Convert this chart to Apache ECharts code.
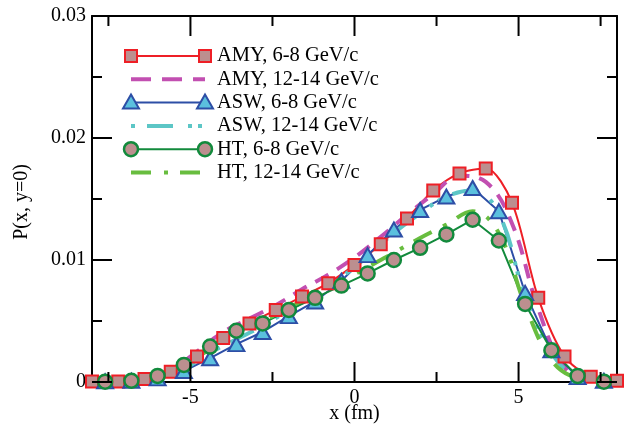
<!DOCTYPE html>
<html>
<head>
<meta charset="utf-8">
<script src="https://cdn.jsdelivr.net/npm/echarts@6/dist/echarts.min.js"></script>
<style>
  html, body { margin: 0; padding: 0; background: #fff; }
  #chart { width: 635px; height: 432px; }
</style>
</head>
<body>
<div id="chart"></div>
<script>
// x positions (fm)
const amyX = [-8, -7.2, -6.4, -5.6, -4.8, -4.0, -3.2, -2.4, -1.6, -0.8, 0, 0.8, 1.6, 2.4, 3.2, 4.0, 4.8, 5.6, 6.4, 7.2, 8.0]
const halfX = [-7.6, -6.8, -6.0, -5.2, -4.4, -3.6, -2.8, -2.0, -1.2, -0.4, 0.4, 1.2, 2.0, 2.8, 3.6, 4.4, 5.2, 6.0, 6.8, 7.6]

// P(x, y=0)
const amy68 = [0.00005, 0.00005, 0.00025, 0.00084, 0.0021, 0.0036, 0.0048, 0.0059, 0.0070, 0.0081, 0.0096, 0.0113, 0.0134, 0.0157, 0.0171, 0.0175, 0.0147, 0.0069, 0.0021, 0.00043, 0.0001]
const amy1214 = [0.00005, 0.0001, 0.0003, 0.0010, 0.0025, 0.0041, 0.0052, 0.0063, 0.0076, 0.0088, 0.0102, 0.0119, 0.0137, 0.0154, 0.0169, 0.0164, 0.0130, 0.0060, 0.0012, 0.0002, 0.00005]
const asw68 = [0.00005, 0.0001, 0.0003, 0.0009, 0.00195, 0.0031, 0.0041, 0.0054, 0.0066, 0.0083, 0.0104, 0.0125, 0.0141, 0.0152, 0.0159, 0.0140, 0.0073, 0.0026, 0.0004, 0.0001]
const asw1214 = [0.00005, 0.0001, 0.0004, 0.0011, 0.0024, 0.0035, 0.0046, 0.0059, 0.0072, 0.0086, 0.0103, 0.0122, 0.0138, 0.0152, 0.0157, 0.0138, 0.0070, 0.0024, 0.0004, 0.0001]
const ht68 = [0.00003, 0.0001, 0.0005, 0.0014, 0.0029, 0.0042, 0.0048, 0.0059, 0.0069, 0.0079, 0.0089, 0.0100, 0.0110, 0.0121, 0.0133, 0.0116, 0.0064, 0.0026, 0.0005, 0.00003]
const ht1214 = [0.00005, 0.0001, 0.0005, 0.0014, 0.0027, 0.0041, 0.0050, 0.0061, 0.0072, 0.0083, 0.0094, 0.0106, 0.0118, 0.0129, 0.0140, 0.0122, 0.0063, 0.0018, 0.0003, 0.00005]

const names = ['AMY, 6-8 GeV/c', 'AMY, 12-14 GeV/c', 'ASW, 6-8 GeV/c', 'ASW, 12-14 GeV/c', 'HT, 6-8 GeV/c', 'HT, 12-14 GeV/c']
const xMajor = [-5, 0, 5]
const xMinor = [-7.5, -2.5, 2.5, 7.5]
const yMajor = [0, 0.01, 0.02, 0.03]
const yMinor = [0.005, 0.015, 0.025]

const FONT = 'Liberation Serif'
const RED = '#ee1f26', MAG = '#c24fb1', BLUE = '#2d4ea6', CYAN = '#5cc6c6', GREEN = '#128a3c', LGREEN = '#68bd3f'
const FILL = '#bc8f8f', TRIFILL = '#5bc0de'

const W = 635, H = 432
const G = { left: 92, right: 18, top: 16, bottom: 50 }
const X_MIN = -8, X_MAX = 8, Y_MIN = 0, Y_MAX = 0.03

const pairs = (xs, ys) => xs.map((x, i) => [x, ys[i]])

const chart = echarts.init(document.getElementById('chart'))

const xBase = { type: 'value', min: X_MIN, max: X_MAX, splitLine: { show: false } }
const yBase = { type: 'value', min: Y_MIN, max: Y_MAX, splitLine: { show: false } }
const axLine = () => ({ onZero: false, lineStyle: { color: '#000', width: 2 } })

chart.setOption({
  animation: false,
  grid: { left: G.left, right: G.right, top: G.top, bottom: G.bottom },
  xAxis: [
    Object.assign({}, xBase, {
      position: 'bottom', axisLine: axLine(), axisTick: { show: false },
      axisLabel: { customValues: xMajor, margin: 6, fontFamily: FONT, fontSize: 20, color: '#000' }
    }),
    Object.assign({}, xBase, { position: 'top', axisLine: axLine(), axisTick: { show: false }, axisLabel: { show: false } })
  ],
  yAxis: [
    Object.assign({}, yBase, {
      position: 'left', axisLine: axLine(), axisTick: { show: false },
      axisLabel: { customValues: yMajor, margin: 6, fontFamily: FONT, fontSize: 20, color: '#000' }
    }),
    Object.assign({}, yBase, { position: 'right', axisLine: axLine(), axisTick: { show: false }, axisLabel: { show: false } })
  ],
  series: [
    {
      name: names[0], type: 'line', data: pairs(amyX, amy68), smooth: 0.3, clip: false,
      symbol: 'rect', symbolSize: 12,
      lineStyle: { color: RED, width: 2 },
      itemStyle: { color: FILL, borderColor: RED, borderWidth: 2 }
    },
    {
      name: names[1], type: 'line', data: pairs(amyX, amy1214), smooth: 0.4, showSymbol: false,
      lineStyle: { color: MAG, width: 4, type: [15, 10] }
    },
    {
      name: names[2], type: 'line', data: pairs(halfX, asw68), clip: false,
      symbol: 'triangle', symbolSize: [16, 14],
      lineStyle: { color: BLUE, width: 2 },
      itemStyle: { color: TRIFILL, borderColor: BLUE, borderWidth: 2 }
    },
    {
      name: names[3], type: 'line', data: pairs(halfX, asw1214), smooth: 0.4, showSymbol: false,
      lineStyle: { color: CYAN, width: 4, type: [26, 15, 4, 6, 4, 12] }
    },
    {
      name: names[4], type: 'line', data: pairs(halfX, ht68), clip: false,
      symbol: 'circle', symbolSize: 14,
      lineStyle: { color: GREEN, width: 2 },
      itemStyle: { color: FILL, borderColor: GREEN, borderWidth: 2.5 }
    },
    {
      name: names[5], type: 'line', data: pairs(halfX, ht1214), smooth: 0.4, showSymbol: false,
      lineStyle: { color: LGREEN, width: 4, type: [20, 13, 4, 12] }
    }
  ]
})

// pixel position of an axis value: ask the chart, fall back to the grid box
const xPix = v => {
  const p = chart.convertToPixel({ xAxisIndex: 0 }, v)
  return Number.isFinite(p) ? p : G.left + (v - X_MIN) / (X_MAX - X_MIN) * (W - G.left - G.right)
}
const yPix = v => {
  const p = chart.convertToPixel({ yAxisIndex: 0 }, v)
  return Number.isFinite(p) ? p : (H - G.bottom) - (v - Y_MIN) / (Y_MAX - Y_MIN) * (H - G.top - G.bottom)
}

// ticks (inward on all four sides), legend and axis titles as graphics
const graphics = []
const tickLine = (x1, y1, x2, y2) => ({
  type: 'line', z: 50, silent: true,
  shape: { x1: x1, y1: y1, x2: x2, y2: y2 },
  style: { stroke: '#000', lineWidth: 2 }
})
const xLeft = xPix(X_MIN), xRight = xPix(X_MAX)
const yBottom = yPix(Y_MIN), yTop = yPix(Y_MAX)
const addXTicks = (vals, len) => vals.forEach(v => {
  const px = xPix(v)
  graphics.push(tickLine(px, yBottom, px, yBottom - len))
  graphics.push(tickLine(px, yTop, px, yTop + len))
})
const addYTicks = (vals, len) => vals.forEach(v => {
  const py = yPix(v)
  graphics.push(tickLine(xLeft, py, xLeft + len, py))
  graphics.push(tickLine(xRight, py, xRight - len, py))
})
addXTicks(xMajor, 20)
addXTicks(xMinor, 10)
addYTicks(yMajor, 20)
addYTicks(yMinor, 10)

const legendRows = [
  { c: RED, w: 2, dash: null, sym: 'rect' },
  { c: MAG, w: 4, dash: [20, 11], sym: null },
  { c: BLUE, w: 2, dash: null, sym: 'tri' },
  { c: CYAN, w: 4, dash: [26, 15, 4, 6, 4, 12], off: 51, sym: null },
  { c: GREEN, w: 2, dash: null, sym: 'circ' },
  { c: LGREEN, w: 4, dash: [20, 13, 4, 12], sym: null }
]
const lgX1 = 131, lgX2 = 205, lgTextX = 217, lgY0 = 56, lgDy = 23.3
legendRows.forEach((r, i) => {
  const y = lgY0 + i * lgDy
  const lineStyle = { stroke: r.c, lineWidth: r.w }
  if (r.dash) { lineStyle.lineDash = r.dash; lineStyle.lineDashOffset = r.off || 0 }
  graphics.push({ type: 'line', shape: { x1: lgX1, y1: y, x2: lgX2, y2: y }, style: lineStyle })
  ;[lgX1, lgX2].forEach(cx => {
    if (r.sym === 'rect') {
      graphics.push({ type: 'rect', shape: { x: cx - 6, y: y - 6, width: 12, height: 12 }, style: { fill: FILL, stroke: RED, lineWidth: 2 } })
    } else if (r.sym === 'tri') {
      graphics.push({ type: 'polygon', shape: { points: [[cx, y - 8], [cx + 8, y + 6], [cx - 8, y + 6]] }, style: { fill: TRIFILL, stroke: BLUE, lineWidth: 2 } })
    } else if (r.sym === 'circ') {
      graphics.push({ type: 'circle', shape: { cx: cx, cy: y, r: 7 }, style: { fill: FILL, stroke: GREEN, lineWidth: 2.5 } })
    }
  })
  graphics.push({
    type: 'text', x: lgTextX, y: y,
    style: { text: names[i], font: '20.5px "' + FONT + '"', fill: '#000', verticalAlign: 'middle' }
  })
})
graphics.push({
  type: 'text', x: xPix(0), y: yBottom + 32,
  style: { text: 'x (fm)', font: '20px "' + FONT + '"', fill: '#000', align: 'center', verticalAlign: 'middle' }
})
graphics.push({
  type: 'text', x: 22, y: (yTop + yBottom) / 2 + 3, rotation: Math.PI / 2,
  style: { text: 'P(x, y=0)', font: '20px "' + FONT + '"', fill: '#000', align: 'center', verticalAlign: 'middle' }
})

chart.setOption({ graphic: { elements: graphics } })
</script>
</body>
</html>
